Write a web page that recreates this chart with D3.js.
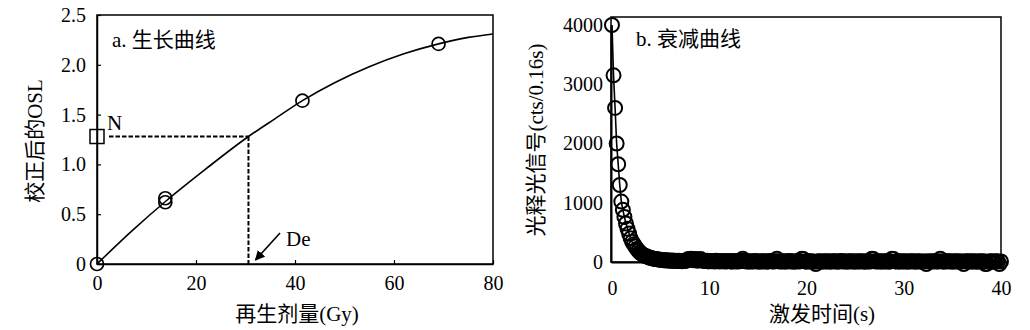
<!DOCTYPE html>
<html><head><meta charset="utf-8">
<script src="https://cdn.jsdelivr.net/npm/d3@7"></script>
<style>
body{margin:0;background:#fff;}
svg text{font-family:"Liberation Serif","Times New Roman","Noto Sans CJK SC",serif !important;fill:#000;}
</style></head>
<body><svg id="c" width="1030" height="330"></svg>
<script>
// ---------- Panel a: growth curve ----------
const growthDose = [0, 13.8, 13.8, 41.5, 69];
const growthOSL  = [0, 0.62, 0.66, 1.64, 2.21];
const naturalOSL = 1.28;   // N
const deValue = 30.6;      // De (Gy)
const fitDose = [0, 7, 14, 22, 30.6, 36, 41.5, 48, 55, 62, 69, 75, 80];
const fitOSL  = [0, 0.33, 0.635, 0.955, 1.28, 1.46, 1.64, 1.82, 1.98, 2.11, 2.21, 2.275, 2.31];
const aTicksX = [0, 20, 40, 60, 80];
const aTicksY = [0, 0.5, 1.0, 1.5, 2.0, 2.5];
const aTickLabelsY = ["0", "0.5", "1.0", "1.5", "2.0", "2.5"];

// ---------- Panel b: decay curve (channel width 0.16 s) ----------
const channelWidth = 0.16;
const decayCounts = [
4000,3150,2600,2000,1650,1300,1020,880,760,650,
560,480,400,340,300,260,220,190,160,140,
120,105,95,85,75,68,60,55,50,45,
42,38,35,30,28,25,30,22,20,24,
18,20,15,22,18,12,20,15,25,50,
45,55,30,48,52,20,40,50,25,18,
15,20,10,18,12,15,8,20,14,10,
12,16,8,14,10,18,12,6,15,10,
12,8,14,20,55,15,10,12,6,14,
10,8,15,12,5,10,14,8,12,10,
6,12,15,10,8,14,55,12,8,10,
14,6,12,10,15,8,12,5,10,14,
8,12,55,50,10,6,12,8,14,10,
5,-35,8,12,10,6,14,8,10,12,
5,10,14,8,12,6,10,15,8,12,
10,5,12,8,14,10,6,12,8,10,
14,8,10,5,12,10,8,55,50,12,
8,10,14,6,12,10,8,12,5,10,
55,50,10,8,12,6,14,10,8,12,
5,10,12,8,14,6,10,12,8,5,
10,8,-35,12,6,10,14,8,12,10,
8,55,12,6,10,14,8,12,10,5,
12,8,10,14,6,10,-35,12,8,10,
14,6,12,10,8,5,12,10,8,14,
-35,-30,10,8,12,6,10,14,8,-35,
10];
const bTicksX = [0, 10, 20, 30, 40];
const bTicksY = [0, 1000, 2000, 3000, 4000];

const svg = d3.select("#c");
const FS = 20, FT = 21;
const SERIF = '"Liberation Serif","Times New Roman","Noto Sans CJK SC",serif';

// ===== Panel a =====
const ax = d3.scaleLinear().domain([0, 80]).range([97, 493]);
const ay = d3.scaleLinear().domain([0, 2.5]).range([264, 15]);
const ga = svg.append("g");

ga.append("rect").attr("x", ax(0)).attr("y", ay(2.5))
  .attr("width", ax(80) - ax(0)).attr("height", ay(0) - ay(2.5))
  .attr("fill", "none").attr("stroke", "#000").attr("stroke-width", 1.5);

const axB = ga.append("g").attr("transform", `translate(0,${ay(0)})`)
  .call(d3.axisBottom(ax).tickValues(aTicksX).tickFormat(d3.format("d")).tickSizeInner(-4).tickSizeOuter(0).tickPadding(12));
const axL = ga.append("g").attr("transform", `translate(${ax(0)},0)`)
  .call(d3.axisLeft(ay).tickValues(aTicksY).tickFormat((d, i) => aTickLabelsY[i]).tickSizeInner(-4).tickSizeOuter(0).tickPadding(11));
[axB, axL].forEach(g => {
  g.attr("font-family", null);
  g.select(".domain").attr("stroke-width", 1.5);
  g.selectAll(".tick line").attr("stroke-width", 1.2);
  g.selectAll("text").attr("font-size", FS).style("font-family", SERIF);
});

ga.append("line").attr("x1", ax(0) + 12).attr("x2", ax(deValue))
  .attr("y1", ay(naturalOSL)).attr("y2", ay(naturalOSL))
  .attr("stroke", "#000").attr("stroke-width", 2).attr("stroke-dasharray", "4.5,2");
ga.append("line").attr("x1", ax(deValue)).attr("x2", ax(deValue))
  .attr("y1", ay(naturalOSL)).attr("y2", ay(0))
  .attr("stroke", "#000").attr("stroke-width", 2).attr("stroke-dasharray", "4.5,2");

ga.append("path").datum(fitDose.map((d, i) => [d, fitOSL[i]]))
  .attr("d", d3.line().x(d => ax(d[0])).y(d => ay(d[1])).curve(d3.curveMonotoneX))
  .attr("fill", "none").attr("stroke", "#000").attr("stroke-width", 1.6);

ga.selectAll("circle.pt").data(growthDose.map((d, i) => [d, growthOSL[i]])).join("circle")
  .attr("cx", d => ax(d[0])).attr("cy", d => ay(d[1])).attr("r", 6.5)
  .attr("fill", "none").attr("stroke", "#000").attr("stroke-width", 1.7);

ga.append("rect").attr("x", ax(0) - 7).attr("y", ay(naturalOSL) - 7)
  .attr("width", 14).attr("height", 14)
  .attr("fill", "none").attr("stroke", "#000").attr("stroke-width", 1.5);
ga.append("text").attr("x", ax(0) + 10).attr("y", ay(naturalOSL) - 7)
  .attr("font-size", FT).text("N");

svg.append("defs").append("marker").attr("id", "ah").attr("viewBox", "0 0 10 10")
  .attr("refX", 9).attr("refY", 5).attr("markerWidth", 10).attr("markerHeight", 10)
  .attr("markerUnits", "userSpaceOnUse").attr("orient", "auto")
  .append("path").attr("d", "M0,0 L10,5 L0,10 z").attr("fill", "#000");
ga.append("line").attr("x1", 280).attr("y1", 233).attr("x2", ax(deValue) + 7).attr("y2", ay(0) - 4)
  .attr("stroke", "#000").attr("stroke-width", 1.6).attr("marker-end", "url(#ah)");
ga.append("text").attr("x", 286).attr("y", 246).attr("font-size", FT).text("De");

ga.append("text").attr("x", 112).attr("y", 47).attr("font-size", FT).text("a. 生长曲线");
ga.append("text").attr("x", (ax(0) + ax(80)) / 2 + 2).attr("y", 321)
  .attr("text-anchor", "middle").attr("font-size", FT).text("再生剂量(Gy)");
ga.append("text").attr("transform", `translate(42,141) rotate(-90)`)
  .attr("text-anchor", "middle").attr("font-size", FT).text("校正后的OSL");

// ===== Panel b =====
const bx = d3.scaleLinear().domain([-0.1, 40]).range([611, 1001]);
const by = d3.scaleLinear().domain([0, 4000]).range([262, 25]);
const gb = svg.append("g");
const yTop = 17;

gb.append("rect").attr("x", 611).attr("y", yTop)
  .attr("width", 1001 - 611).attr("height", by(0) - yTop)
  .attr("fill", "none").attr("stroke", "#000").attr("stroke-width", 1.5);

const bB = gb.append("g").attr("transform", `translate(0,${by(0)})`)
  .call(d3.axisBottom(bx).tickValues(bTicksX).tickFormat(d3.format("d")).tickSize(0).tickPadding(19));
const bL = gb.append("g").attr("transform", `translate(611,0)`)
  .call(d3.axisLeft(by).tickValues(bTicksY).tickFormat(d3.format("d")).tickSize(0).tickPadding(8));
[bB, bL].forEach(g => {
  g.attr("font-family", null);
  g.select(".domain").attr("stroke-width", 2);
  g.selectAll("text").attr("font-size", FS).style("font-family", SERIF);
});

const decayPts = decayCounts.map((v, i) => [i * channelWidth, v]);
gb.append("path").datum(decayPts)
  .attr("d", d3.line().x(d => bx(d[0])).y(d => by(d[1])))
  .attr("fill", "none").attr("stroke", "#000").attr("stroke-width", 1.6);
gb.selectAll("circle").data(decayPts).join("circle")
  .attr("cx", d => bx(d[0])).attr("cy", d => by(d[1])).attr("r", 7)
  .attr("fill", "none").attr("stroke", "#000").attr("stroke-width", 2);

gb.append("text").attr("x", 636).attr("y", 46).attr("font-size", FT).text("b. 衰减曲线");
gb.append("text").attr("x", 822).attr("y", 321)
  .attr("text-anchor", "middle").attr("font-size", FT).text("激发时间(s)");
gb.append("text").attr("transform", `translate(543,140) rotate(-90)`)
  .attr("text-anchor", "middle").attr("font-size", FT).text("光释光信号(cts/0.16s)");
</script></body></html>
